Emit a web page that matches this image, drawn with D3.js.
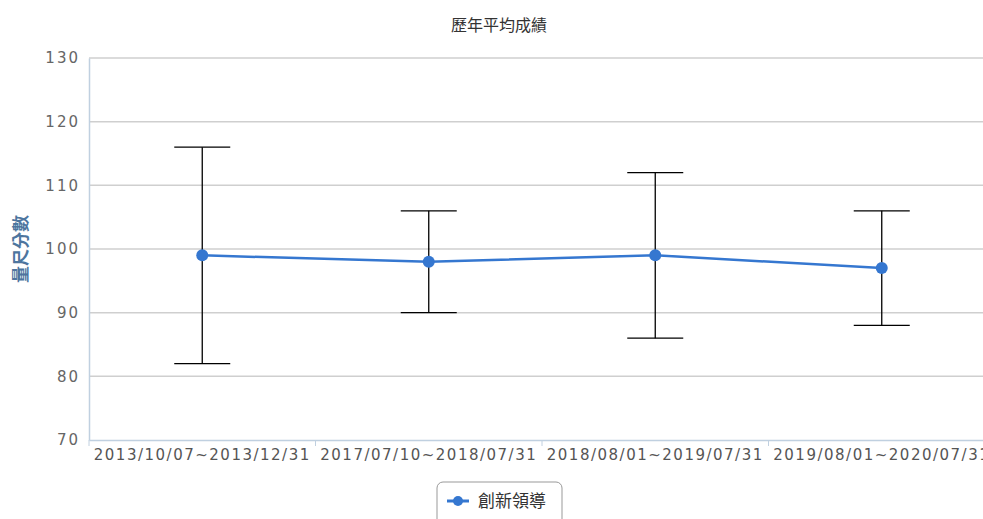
<!DOCTYPE html>
<html>
<head>
<meta charset="utf-8">
<script src="https://cdn.jsdelivr.net/npm/d3@7"></script>
<style>
body{margin:0;background:#fff;}
svg{display:block;font-family:"DejaVu Sans","Noto Sans CJK TC",sans-serif;}
</style>
</head>
<body>
<svg width="983" height="519"></svg>
<script>
// 歷年平均成績 data
const categories = ["2013/10/07~2013/12/31","2017/07/10~2018/07/31","2018/08/01~2019/07/31","2019/08/01~2020/07/31"]
const means = [99, 98, 99, 97]
const lows = [82, 90, 86, 88]
const highs = [116, 106, 112, 106]
const yTicks = [70, 80, 90, 100, 110, 120, 130]
const seriesName = "創新領導"

const svg = d3.select("svg")
const pLeft = 89, pRight = 995, pTop = 58, pBottom = 440
const blue = "#3577d0"

const x = d3.scaleBand().domain(categories).range([pLeft, pRight])
const y = d3.scaleLinear().domain([70, 130]).range([pBottom, pTop])

// grid
svg.append("g").selectAll("line").data(yTicks.slice(1)).join("line")
  .attr("x1", pLeft).attr("x2", 983)
  .attr("y1", d => y(d)).attr("y2", d => y(d))
  .attr("stroke", "#cfcfcf").attr("stroke-width", 1.5)

// y axis
const yAxis = svg.append("g").attr("transform", `translate(${pLeft},0)`)
  .call(d3.axisLeft(y).tickValues(yTicks).tickSize(0).tickPadding(9))
yAxis.select(".domain").attr("stroke", "#c0d0e0").attr("stroke-width", 1.5)
yAxis.selectAll("text").attr("fill", "#666")
  .style("font-family", "DejaVu Sans").style("font-size", "15px").style("letter-spacing", "2px")

// x axis
const xAxis = svg.append("g").attr("transform", `translate(0,${pBottom})`)
  .call(d3.axisBottom(x).tickSize(0).tickPadding(9))
xAxis.select(".domain").attr("stroke", "#c0d0e0").attr("stroke-width", 1.5)
xAxis.selectAll("text").attr("fill", "#555")
  .style("font-family", "DejaVu Sans").style("font-size", "15px").style("letter-spacing", "1.5px")
xAxis.selectAll(".bnd").data(categories).join("line")
  .attr("x1", d => x(d)).attr("x2", d => x(d))
  .attr("y1", 0).attr("y2", 6)
  .attr("stroke", "#c0d0e0")

// error bars
const cx = d => x(d) + x.bandwidth() / 2
const eb = svg.append("g").attr("stroke", "#000").attr("stroke-width", 1.3)
categories.forEach((c, i) => {
  eb.append("line").attr("x1", cx(c)).attr("x2", cx(c)).attr("y1", y(highs[i])).attr("y2", y(lows[i]))
  eb.append("line").attr("x1", cx(c) - 28).attr("x2", cx(c) + 28).attr("y1", y(highs[i])).attr("y2", y(highs[i]))
  eb.append("line").attr("x1", cx(c) - 28).attr("x2", cx(c) + 28).attr("y1", y(lows[i])).attr("y2", y(lows[i]))
})

// mean line
const line = d3.line().x((d, i) => cx(categories[i])).y(d => y(d))
svg.append("path").attr("d", line(means))
  .attr("fill", "none").attr("stroke", blue).attr("stroke-width", 2.5)
svg.append("g").selectAll("circle").data(means).join("circle")
  .attr("cx", (d, i) => cx(categories[i])).attr("cy", d => y(d)).attr("r", 6)
  .attr("fill", blue)

// title
svg.append("text").attr("x", 499).attr("y", 31).attr("text-anchor", "middle")
  .attr("fill", "#333").style("font-size", "16px").style("font-family", "Noto Sans CJK TC")
  .text("歷年平均成績")

// y title
svg.append("text").attr("transform", `translate(27,${y(100)}) rotate(-90)`)
  .attr("text-anchor", "middle").attr("fill", "#4d759e").style("font-weight", "bold")
  .style("font-size", "17px").style("font-family", "Noto Sans CJK TC")
  .text("量尺分數")

// legend
const lg = svg.append("g").attr("transform", "translate(437,482)")
lg.append("rect").attr("x", 0).attr("y", 0).attr("width", 125).attr("height", 50).attr("rx", 6)
  .attr("fill", "#fff").attr("stroke", "#999").attr("stroke-width", 1)
lg.append("line").attr("x1", 10).attr("x2", 32).attr("y1", 19).attr("y2", 19)
  .attr("stroke", blue).attr("stroke-width", 3)
lg.append("circle").attr("cx", 21).attr("cy", 19).attr("r", 5).attr("fill", blue)
lg.append("text").attr("x", 41).attr("y", 25).attr("fill", "#333")
  .style("font-size", "17px").style("font-family", "Noto Sans CJK TC").text(seriesName)
</script>
</body>
</html>
